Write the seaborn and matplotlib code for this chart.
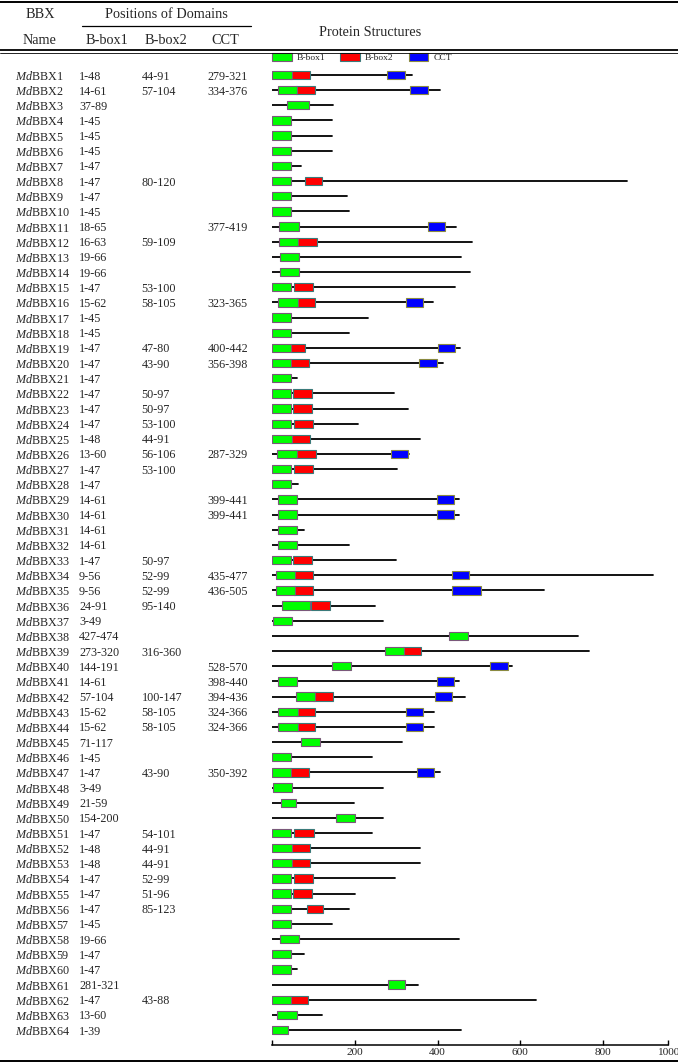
import matplotlib
matplotlib.use("Agg")
import matplotlib.pyplot as plt
import matplotlib.transforms as mtransforms
from matplotlib.lines import Line2D
from matplotlib.patches import Patch
import pandas as pd
import seaborn as sns

# table columns as printed in the figure
names = [f"BBX{i}" for i in range(1, 65)]
bbox1 = ["1-48", "14-61", "37-89", "1-45", "1-45", "1-45", "1-47", "1-47", "1-47", "1-45",
         "18-65", "16-63", "19-66", "19-66", "1-47", "15-62", "1-45", "1-45", "1-47", "1-47",
         "1-47", "1-47", "1-47", "1-47", "1-48", "13-60", "1-47", "1-47", "14-61", "14-61",
         "14-61", "14-61", "1-47", "9-56", "9-56", "24-91", "3-49", "427-474", "273-320", "144-191",
         "14-61", "57-104", "15-62", "15-62", "71-117", "1-45", "1-47", "3-49", "21-59", "154-200",
         "1-47", "1-48", "1-48", "1-47", "1-47", "1-47", "1-45", "19-66", "1-47", "1-47",
         "281-321", "1-47", "13-60", "1-39"]
bbox2 = ["44-91", "57-104", "", "", "", "", "", "80-120", "", "",
         "", "59-109", "", "", "53-100", "58-105", "", "", "47-80", "43-90",
         "", "50-97", "50-97", "53-100", "44-91", "56-106", "53-100", "", "", "",
         "", "", "50-97", "52-99", "52-99", "95-140", "", "", "316-360", "",
         "", "100-147", "58-105", "58-105", "", "", "43-90", "", "", "",
         "54-101", "44-91", "44-91", "52-99", "51-96", "85-123", "", "", "", "",
         "", "43-88", "", ""]
cct = ["279-321", "334-376", "", "", "", "", "", "", "", "",
       "377-419", "", "", "", "", "323-365", "", "", "400-442", "356-398",
       "", "", "", "", "", "287-329", "", "", "399-441", "399-441",
       "", "", "", "435-477", "436-505", "", "", "", "", "528-570",
       "398-440", "394-436", "324-366", "324-366", "", "", "350-392", "", "", "",
       "", "", "", "", "", "", "", "", "", "",
       "", "", "", ""]
# protein lengths (aa)
lengths = [338, 406, 148, 145, 145, 145, 69, 857, 182, 186,
           445, 484, 456, 479, 443, 390, 231, 186, 455, 413,
           61, 296, 329, 208, 358, 330, 301, 64, 453, 453,
           77, 185, 300, 920, 657, 250, 269, 739, 765, 580,
           452, 466, 391, 391, 313, 242, 407, 269, 199, 269,
           242, 358, 358, 297, 201, 185, 144, 453, 78, 61,
           352, 638, 120, 456]
xticks = [0, 200, 400, 600, 800, 957]
xtick_labels = ["", "200", "400", "600", "800", "1000"]

domain_colors = {"B-box1": "#00ff00", "B-box2": "#ff0000", "CCT": "#0000ff"}
domain_edges = {"B-box1": "#7a587a", "B-box2": "#3a7a7a", "CCT": "#8a8a40"}

sns.set_theme(style="white")
plt.rcParams["font.family"] = ["Liberation Serif", "DejaVu Serif"]
plt.rcParams["mathtext.fontset"] = "custom"
plt.rcParams["mathtext.rm"] = "Liberation Serif"
plt.rcParams["mathtext.it"] = "Liberation Serif:italic"

W, H = 678, 1063
ROW0, ROWH = 75, 15.16


def fx(px):
    return px / W


def fy(py):
    return 1 - py / H


def parse(r):
    a, b = r.split("-")
    return int(a), int(b)


fig = plt.figure(figsize=(W / 100, H / 100), dpi=100)
ax = fig.add_axes([fx(272), fy(1045), (668 - 272) / W, (1045 - 50) / H])

rows = list(range(1, 65))

# protein backbones
line_df = pd.DataFrame({
    "name": names * 2,
    "row": rows * 2,
    "pos": [0] * 64 + lengths,
})
sns.lineplot(data=line_df, x="pos", y="row", units="name", estimator=None,
             sort=False, color="black", linewidth=1.3, legend=False, ax=ax)

# domain boxes
for label, col, z in [("B-box2", bbox2, 3), ("B-box1", bbox1, 4), ("CCT", cct, 3)]:
    ys, lefts, widths = [], [], []
    for r, s in zip(rows, col):
        if s:
            a, b = parse(s)
            ys.append(r)
            lefts.append(a)
            widths.append(b - a)
    ax.barh(ys, widths, left=lefts, height=0.55, color=domain_colors[label],
            edgecolor=domain_edges[label], linewidth=0.8, zorder=z)

ax.set_xlim(0, 957)
ax.set_ylim(1 + (1045 - ROW0) / ROWH, 1 - (ROW0 - 50) / ROWH)
ax.set_xlabel("")
ax.set_ylabel("")
ax.set_yticks([])
ax.set_xticks(xticks)
ax.set_xticklabels(xtick_labels, fontsize=8.2)
ax.tick_params(axis="x", direction="in", length=3.5, width=1, color="black", pad=2,
               bottom=True)
for side in ["top", "right", "left"]:
    ax.spines[side].set_visible(False)
ax.spines["bottom"].set_color("black")
ax.spines["bottom"].set_linewidth(1.1)
ax.patch.set_alpha(0)

# legend
handles = [Patch(facecolor=domain_colors[k], edgecolor=domain_edges[k], linewidth=0.8)
           for k in domain_colors]
ax.legend(handles, list(domain_colors), ncol=3, loc="center left",
          bbox_to_anchor=(0, 1 - (ROW0 - 57.5) / ROWH), bbox_transform=ax.get_yaxis_transform(),
          frameon=False, prop={"family": "Liberation Serif", "size": 6.8},
          handlelength=2.1, handleheight=0.85, handletextpad=0.5, columnspacing=1.6,
          borderpad=0, borderaxespad=0)

# table text
trans = mtransforms.blended_transform_factory(fig.transFigure, ax.transData)
for r, n, b1, b2, c in zip(rows, names, bbox1, bbox2, cct):
    ax.text(fx(15), r, r"$\mathit{Md}$" + n, transform=trans, fontsize=8.7,
            va="center_baseline", ha="left", clip_on=False)
    ax.text(fx(79), r, b1, transform=trans, fontsize=8.7, va="center_baseline", clip_on=False)
    ax.text(fx(141.5), r, b2, transform=trans, fontsize=8.7, va="center_baseline", clip_on=False)
    ax.text(fx(207.5), r, c, transform=trans, fontsize=8.7, va="center_baseline", clip_on=False)

# header
hdr = dict(fontsize=10.3, ha="center", va="center")
fig.text(fx(40), fy(15), "BBX", **hdr)
fig.text(fx(40), fy(40), "Name", **hdr)
fig.text(fx(166), fy(15), "Positions of Domains", **hdr)
fig.text(fx(107), fy(40), "B-box1", **hdr)
fig.text(fx(166), fy(40), "B-box2", **hdr)
fig.text(fx(225), fy(40), "CCT", **hdr)
fig.text(fx(370), fy(33), "Protein Structures", **hdr)

# table rules
fig.add_artist(Line2D([0, 1], [fy(1.8), fy(1.8)], color="black", lw=1.4))
fig.add_artist(Line2D([fx(82), fx(251)], [fy(26), fy(26)], color="black", lw=0.9))
fig.add_artist(Line2D([0, 1], [fy(50), fy(50)], color="black", lw=1.3))
fig.add_artist(Line2D([0, 1], [fy(52.5), fy(52.5)], color="black", lw=0.6))
fig.add_artist(Line2D([0, 1], [fy(1061), fy(1061)], color="black", lw=1.4))

fig.savefig("out.png", dpi=100)
